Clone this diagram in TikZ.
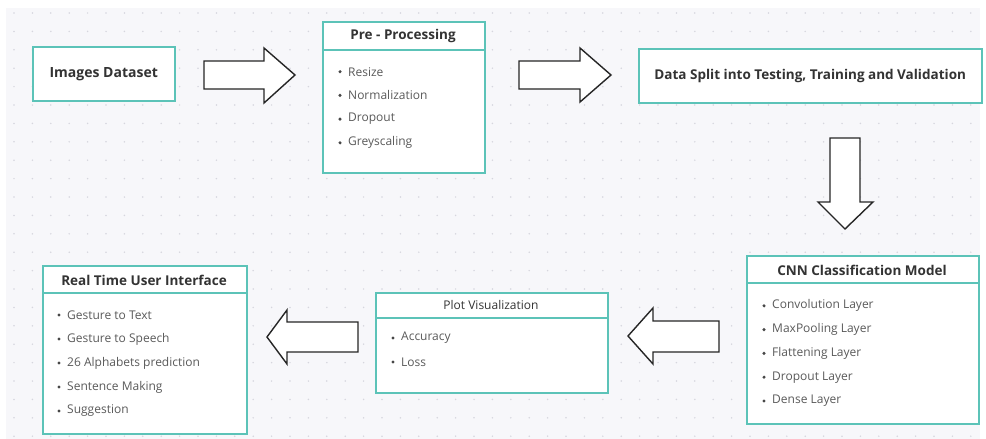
\documentclass[tikz,border=0pt]{standalone}
\usepackage{fontspec}
\setmainfont{Open Sans}
\usetikzlibrary{shadows}
\definecolor{teal1}{HTML}{5CC3B8}
\definecolor{canvas}{HTML}{F7F7FA}
\definecolor{griddot}{HTML}{D6D6DE}
\definecolor{titlec}{HTML}{333333}
\definecolor{itemc}{HTML}{5A5A5A}
\tikzset{
  box/.style={draw=teal1, line width=1.5pt, fill=white, anchor=north west, inner sep=0pt,
    drop shadow={shadow xshift=1pt, shadow yshift=-1pt, opacity=0.25, fill=black!60}},
  rule/.style={draw=teal1, line width=1.2pt},
  title/.style={text=titlec, font=\fontsize{13.5}{15}\selectfont\bfseries, inner sep=0pt},
  plaintitle/.style={text=titlec, font=\fontsize{12}{14}\selectfont, inner sep=0pt},
  item/.style={text=itemc, font=\fontsize{12}{14}\selectfont, anchor=west, inner sep=0pt},
  dotmark/.style={circle, fill=titlec!90, inner sep=0pt, minimum size=3.4pt},
  blockarrow/.style={draw=black!85, line width=1.4pt, fill=white, line join=miter},
}
\begin{document}
\begin{tikzpicture}[x=1pt,y=-1pt]
\useasboundingbox (0,0) rectangle (986,439);
% canvas with dotted grid
\fill[white] (0,0) rectangle (986,439);
\fill[canvas] (6,8) rectangle (980,439);
\foreach \i in {0,...,52} {
  \foreach \j in {0,...,23} {
    \fill[griddot] (14+18.4*\i, 13+18.4*\j) circle (0.85);
  }
}

% ---- boxes ----
\node[box, minimum width=142pt, minimum height=54pt] (ds) at (32,46) {};
\node[title, font=\fontsize{14}{16}\selectfont\bfseries] (dst) at (ds.center) {Images Dataset};

\node[box, minimum width=162pt, minimum height=151pt] (pre) at (322,21) {};
\draw[rule] (322,50) -- (484,50);
\node[title] (pret) at (403,36) {Pre - Processing};

\node[box, minimum width=343pt, minimum height=54pt] (split) at (638,48) {};
\node[title] (splitt) at (split.center) {Data Split into Testing, Training and Validation};

\node[box, minimum width=232pt, minimum height=168pt] (cnn) at (746,255) {};
\draw[rule] (746,283) -- (978,283);
\node[title] (cnnt) at (862,270) {CNN Classification Model};

\node[box, minimum width=232pt, minimum height=100pt] (plot) at (375,292) {};
\draw[rule] (375,318) -- (607,318);
\node[plaintitle] (plott) at (491,305) {Plot Visualization};

\node[box, minimum width=204pt, minimum height=168pt] (ui) at (42,265) {};
\draw[rule] (42,293) -- (246,293);
\node[title] (uit) at (144,280) {Real Time User Interface};

% ---- bullet lists ----
\foreach \t [count=\k] in {Resize, Normalization, Dropout, Greyscaling} {
  \node[dotmark] (preb\k) at (340, 48+23.7*\k) {};
  \node[item] (prei\k) at (348, 48+23.7*\k) {\t};
}
\foreach \t [count=\k] in {Convolution Layer, MaxPooling Layer, Flattening Layer, Dropout Layer, Dense Layer} {
  \node[dotmark] (cnnb\k) at (764, 282+23.8*\k) {};
  \node[item] (cnni\k) at (772, 282+23.8*\k) {\t};
}
\foreach \t [count=\k] in {Accuracy, Loss} {
  \node[dotmark] (plotb\k) at (393, 314+24*\k) {};
  \node[item] (ploti\k) at (401, 314+24*\k) {\t};
}
\foreach \t [count=\k] in {Gesture to Text, Gesture to Speech, 26 Alphabets prediction, Sentence Making, Suggestion} {
  \node[dotmark] (uib\k) at (59, 291+24*\k) {};
  \node[item] (uii\k) at (67, 291+24*\k) {\t};
}

% ---- block arrows between stages ----
% Images Dataset -> Pre-Processing
\draw[blockarrow] (204,61) -- (264,61) -- (264,48) -- (295,75) -- (264,103) -- (264,89) -- (204,89) -- cycle;
% Pre-Processing -> Data Split
\draw[blockarrow] (519,61) -- (580,61) -- (580,48) -- (611,75) -- (580,102) -- (580,89) -- (519,89) -- cycle;
% Data Split -> CNN model
\draw[blockarrow] (830,138) -- (860,138) -- (860,202) -- (873,202) -- (845,229) -- (818,202) -- (830,202) -- cycle;
% CNN model -> Plot Visualization
\draw[blockarrow] (719,321) -- (719,352) -- (653,352) -- (653,364) -- (628,336) -- (653,308) -- (653,321) -- cycle;
% Plot Visualization -> User Interface
\draw[blockarrow] (358,322) -- (358,352) -- (287,352) -- (287,364) -- (267,337) -- (287,310) -- (287,322) -- cycle;
\end{tikzpicture}
\end{document}
